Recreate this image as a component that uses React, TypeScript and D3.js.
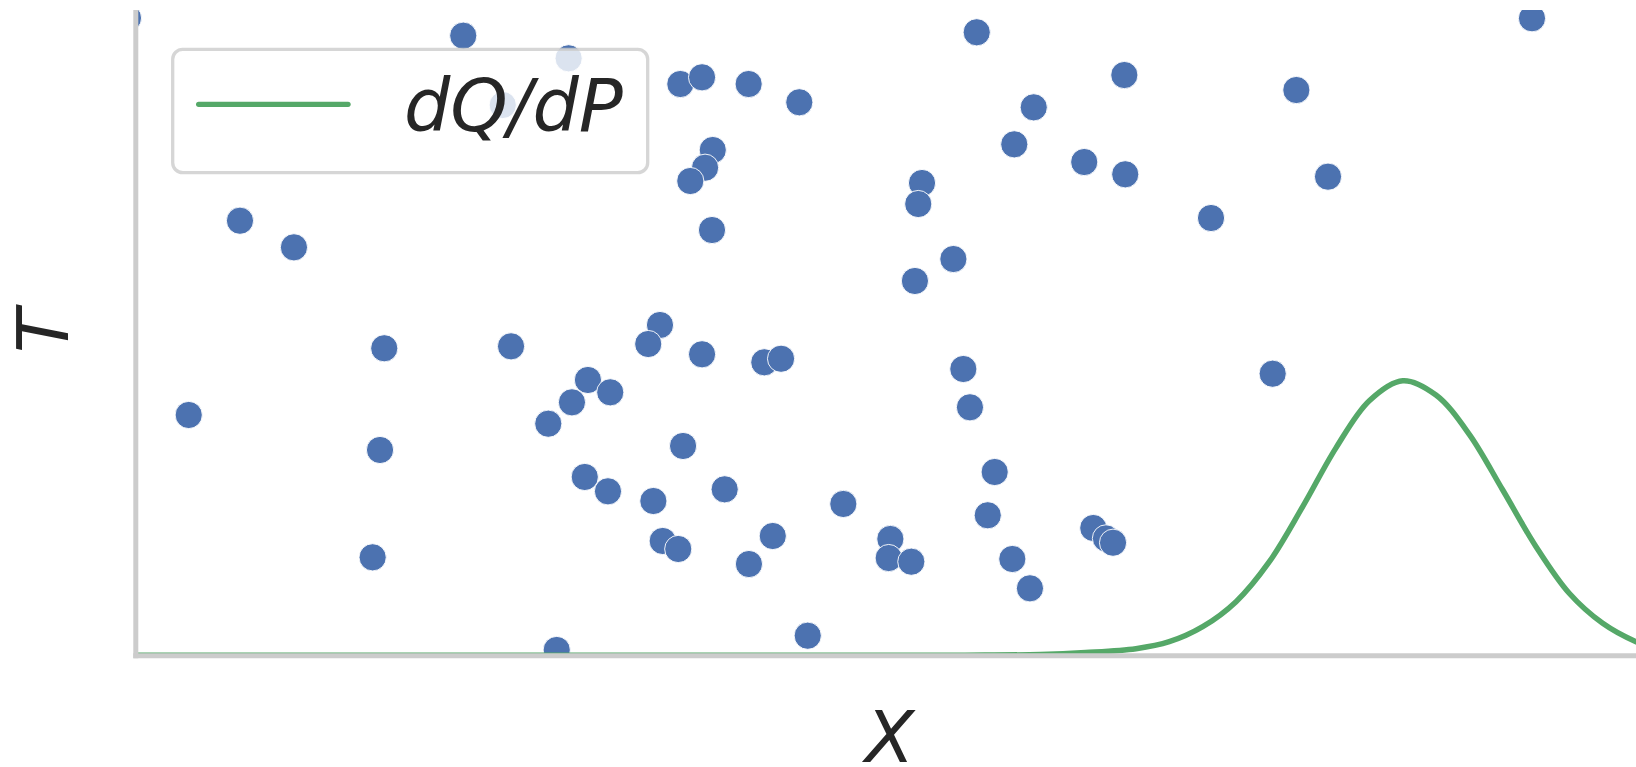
import React from "react";
import * as d3 from "d3";

// Scatter sample: horizontal position X and temperature T
const pointX = [
  -0.052, 2.172, 2.871, 2.434, 0.691, 1.049, 3.612, 3.756, 4.065, 4.401,
  5.578, 6.557, 5.956, 5.827, 6.291, 6.563, 3.827, 3.776, 3.678, 5.215,
  5.19, 3.822, 5.423, 5.168, 3.477, 9.261, 7.698, 7.908, 7.132, 1.648,
  2.489, 3.399, 0.351, 2.999, 3.147, 2.893, 2.736, 1.62, 2.978, 3.132,
  1.571, 2.792, 3.756, 4.169, 4.28, 5.489, 5.533, 3.63, 3.906, 3.433,
  4.693, 5.697, 5.651, 4.225, 3.495, 3.598, 4.067, 5.005, 4.994, 5.144,
  6.351, 6.435, 6.482, 5.814, 5.931, 4.457, 7.541,
];
const pointT = [
  9.876, 9.602, 9.252, 8.529, 6.737, 6.325, 8.854, 8.958, 8.854, 8.571,
  9.655, 8.993, 8.493, 7.92, 7.646, 7.456, 7.832, 7.558, 7.352, 7.321,
  6.996, 6.593, 6.144, 5.804, 5.122, 9.872, 8.761, 7.419, 6.779, 4.762,
  4.792, 4.828, 3.729, 4.271, 4.08, 3.925, 3.594, 3.187, 2.769, 2.547,
  1.525, 0.09, 4.669, 4.545, 4.6, 4.441, 3.848, 3.249, 2.578, 2.397,
  2.351, 2.846, 2.176, 1.855, 1.778, 1.654, 1.421, 1.809, 1.514, 1.457,
  1.979, 1.818, 1.751, 1.499, 1.045, 0.311, 4.368,
];

// dQ/dP curve
const curveX = [
  0, 3, 5.5, 6.0, 6.3, 6.634, 6.855, 7.077, 7.298, 7.519, 7.74, 7.961,
  8.182, 8.404, 8.624, 8.845, 9.067, 9.288, 9.508, 9.73, 9.951, 10.0,
];
const curveY = [
  0.01, 0.01, 0.01, 0.02, 0.05, 0.11, 0.218, 0.451, 0.838, 1.457, 2.309,
  3.22, 3.95, 4.26, 4.038, 3.43, 2.567, 1.689, 0.968, 0.503, 0.218, 0.18,
];

const legendLabel = "dQ/dP";
const xLabel = "X";
const yLabel = "T";

const W = 1636;
const H = 767;
const left = 135.8;
const right = 1643.4;
const top = 10;
const bottom = 655.8;

const BLUE = "#4c72b0";
const GREEN = "#55a868";
const SPINE = "#cccccc";
const TEXT = "#262626";
const FONT = "'DejaVu Sans', sans-serif";

export default function App() {
  const x = d3.scaleLinear().domain([0, 10]).range([left, right]);
  const y = d3.scaleLinear().domain([0, 10]).range([bottom, top]);

  const points = pointX.map((v, i) => ({ x: v, t: pointT[i] }));
  const curve = curveX.map((v, i) => ({ x: v, y: curveY[i] }));

  const line = d3
    .line<{ x: number; y: number }>()
    .x((d) => x(d.x))
    .y((d) => y(d.y))
    .curve(d3.curveCatmullRom.alpha(0.5));

  return (
    <>
      <style>{`body{margin:0;}`}</style>
      <svg width={W} height={H} style={{ display: "block" }}>
        <rect x={0} y={0} width={W} height={H} fill="white" />
        <defs>
          <clipPath id="plot-area">
            <rect x={left} y={top} width={right - left} height={bottom - top} />
          </clipPath>
        </defs>

        <g clipPath="url(#plot-area)">
          {points.map((p, i) => (
            <circle
              key={i}
              cx={x(p.x)}
              cy={y(p.t)}
              r={13.6}
              fill={BLUE}
              stroke="white"
              strokeWidth={0.9}
            />
          ))}
          <path
            d={line(curve) ?? ""}
            fill="none"
            stroke={GREEN}
            strokeWidth={5.5}
            strokeLinejoin="round"
            strokeLinecap="round"
          />
        </g>

        {/* spines */}
        <line x1={left} x2={left} y1={top} y2={bottom + 2.5} stroke={SPINE} strokeWidth={5} />
        <line x1={left - 2.5} x2={right} y1={bottom} y2={bottom} stroke={SPINE} strokeWidth={5} />

        {/* axis labels */}
        <text
          x={(left + right) / 2}
          y={761.7}
          textAnchor="middle"
          fontFamily={FONT}
          fontStyle="italic"
          fontSize={72}
          fill={TEXT}
        >
          {xLabel}
        </text>
        <text
          transform={`translate(67.7, ${(top + bottom) / 2 - 2}) rotate(-90)`}
          textAnchor="middle"
          fontFamily={FONT}
          fontStyle="italic"
          fontSize={72}
          fill={TEXT}
        >
          {yLabel}
        </text>

        {/* legend */}
        <g>
          <rect
            x={172.7}
            y={49.3}
            width={475}
            height={123.4}
            rx={10}
            fill="white"
            fillOpacity={0.8}
            stroke={SPINE}
            strokeOpacity={0.8}
            strokeWidth={3.3}
          />
          <line
            x1={198.7}
            x2={348}
            y1={104.3}
            y2={104.3}
            stroke={GREEN}
            strokeWidth={5.3}
            strokeLinecap="round"
          />
          <text
            x={404}
            y={130.7}
            fontFamily={FONT}
            fontStyle="italic"
            fontSize={73}
            fill={TEXT}
          >
            {legendLabel}
          </text>
        </g>
      </svg>
    </>
  );
}
